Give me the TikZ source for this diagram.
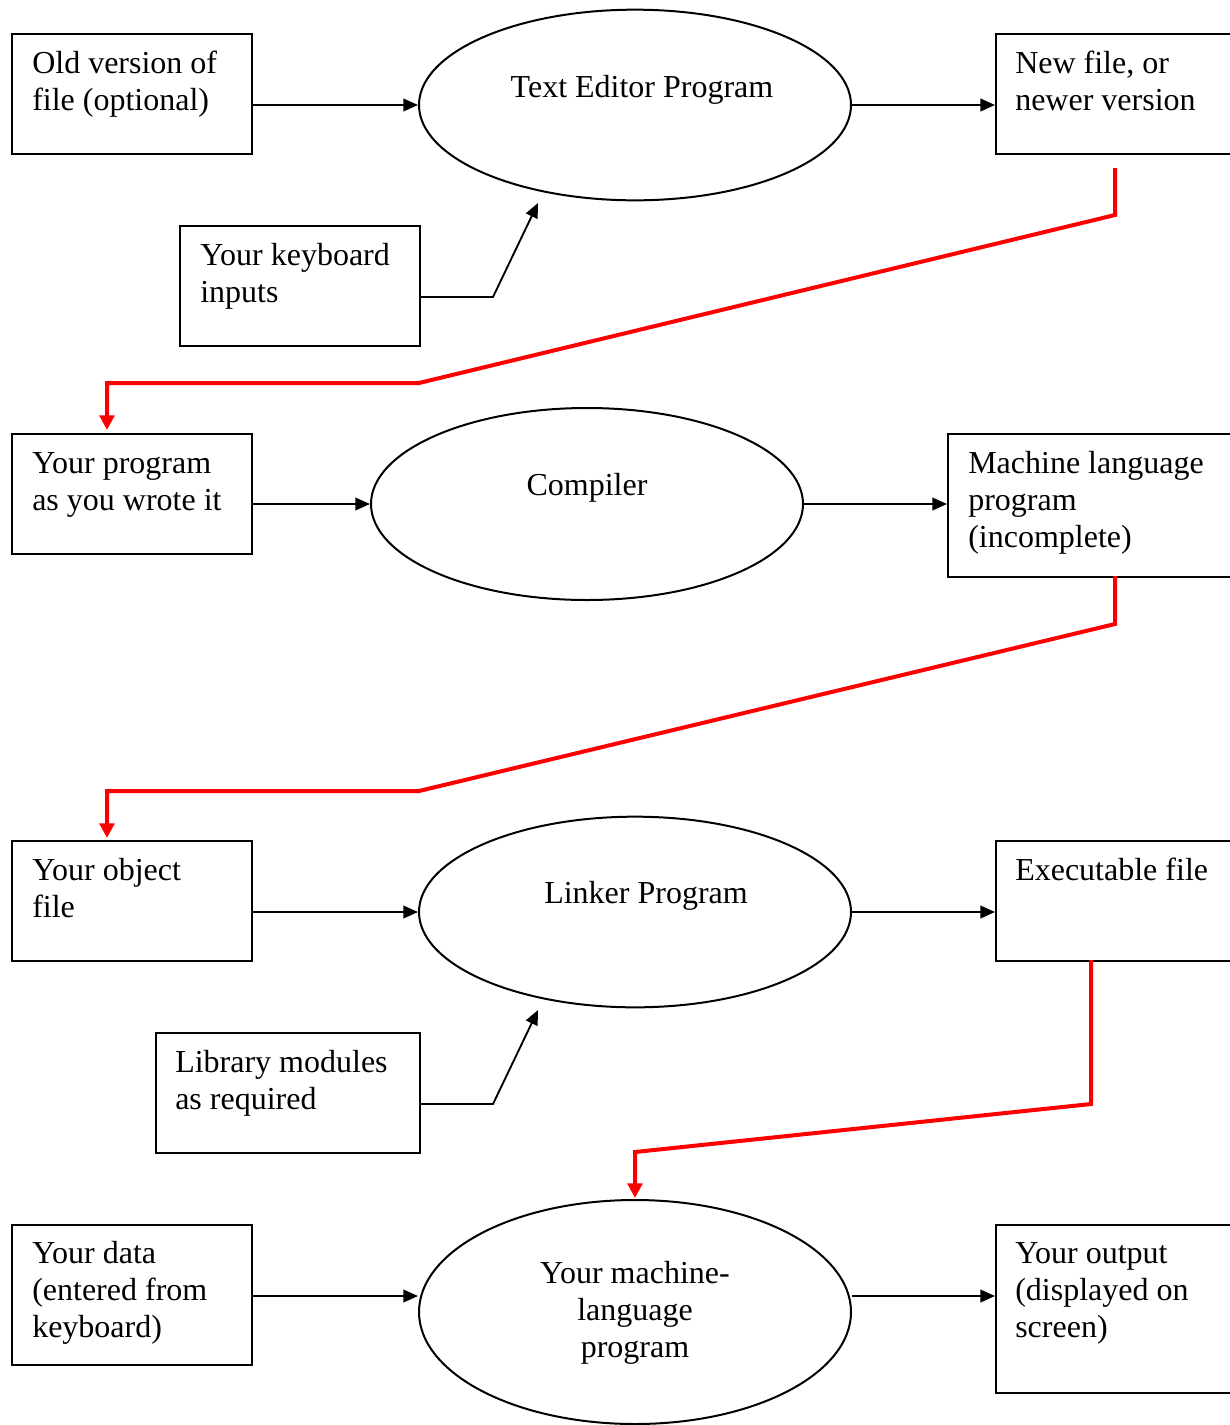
\documentclass[tikz,border=0pt]{standalone}
\usepackage{fontspec}
\setmainfont{Liberation Serif}
\usetikzlibrary{shapes.geometric,arrows.meta,calc}
\begin{document}
\begin{tikzpicture}[x=0.75pt,y=-0.75pt,
  box/.style={draw,line width=1.5pt,inner sep=0,anchor=north west,minimum width=180pt,minimum height=90pt},
  ell/.style={draw,ellipse,line width=1.5pt,inner sep=0,minimum width=324pt,minimum height=143pt},
  txt/.style={inner sep=0,align=left,anchor=north west,font=\fontsize{24pt}{27.75pt}\selectfont},
  ctxt/.style={inner sep=0,align=center,font=\fontsize{24pt}{27.75pt}\selectfont},
  arr/.style={line width=1.4pt,-{Triangle[length=11pt,width=9.5pt]}},
  redarr/.style={draw=red,line width=3pt,-{Triangle[length=11pt,width=11pt]}}]
\useasboundingbox (0,0) rectangle (1230,1425);
\clip (0,0) rectangle (1230,1425);
% row 1
\node[box] (b1) at (11,33) {};
\node[ell] (e1) at (635,105) {};
\node[box] (b3) at (995,33) {};
\node[box] (kb) at (179,225) {};
\node[txt] (t1) at (32,47) {\strut Old version of\\file (optional)};
\node[ctxt,anchor=base] (t2) at (642,97) {Text Editor Program};
\node[txt] (t3) at (1015,47) {\strut New file, or\\newer version};
\node[txt] (t4) at (200,239) {\strut Your keyboard\\inputs};
\draw[arr] (b1.east |- e1) -- (e1.west);
\draw[arr] (e1.east) -- (b3.west |- e1);
\coordinate (k1) at (538,203);
\draw[arr] ($(kb.north east)+(0,72)$) -- ++(72,0) -- (k1);
% red 1
\coordinate (r1s) at (1115,168);
\coordinate (r1e) at (107,430);
\draw[redarr] (r1s) -- (1115,215) -- (419,383) -- (107,383) -- (r1e);
% row 2
\node[box] (b4) at (11,433) {};
\node[ell,minimum height=144pt] (e2) at (587,504) {};
\node[box,minimum width=240pt,minimum height=107pt] (b6) at (947,433) {};
\node[txt] (t5) at (32,447) {\strut Your program\\as you wrote it};
\node[ctxt,anchor=base] (t6) at (587,495) {Compiler};
\node[txt] (t7) at (968,447) {\strut Machine language\\program\\(incomplete)};
\draw[arr] (b4.east |- e2) -- (e2.west);
\draw[arr] (e2.east) -- (b6.west |- e2);
% red 2
\coordinate (r2s) at (1115,576);
\coordinate (r2e) at (107,838);
\draw[redarr] (r2s) -- (1115,624) -- (419,791) -- (107,791) -- (r2e);
% row 3
\node[box] (b7) at (11,840) {};
\node[ell] (e3) at (635,912) {};
\node[box] (b9) at (995,840) {};
\node[box,minimum width=198pt] (lib) at (155,1032) {};
\node[txt] (t8) at (32,854) {\strut Your object\\file};
\node[ctxt,anchor=base] (t9) at (646,903) {Linker Program};
\node[txt] (t10) at (1015,854) {\strut Executable file};
\node[txt] (t11) at (175,1046) {\strut Library modules\\as required};
\draw[arr] (b7.east |- e3) -- (e3.west);
\draw[arr] (e3.east) -- (b9.west |- e3);
\coordinate (k2) at (538,1010);
\draw[arr] ($(lib.north east)+(0,72)$) -- ++(72,0) -- (k2);
% red 3
\coordinate (r3s) at (1091,960);
\coordinate (r3e) at (635,1198);
\draw[redarr] (r3s) -- (1091,1104) -- (635,1152) -- (r3e);
% row 4
\node[box,minimum height=105pt] (b10) at (11,1224) {};
\node[ell,minimum height=168pt] (e4) at (635,1312) {};
\node[box,minimum height=126pt] (b12) at (995,1224) {};
\node[txt] (t13) at (32,1237) {\strut Your data\\(entered from\\keyboard)};
\node[ctxt,anchor=north] (t12) at (635,1257) {\strut Your machine-\\language\\program};
\node[txt] (t14) at (1015,1237) {\strut Your output\\(displayed on\\screen)};
\draw[arr] (b10.east |- 0,1296) -- (e4.west |- 0,1296);
\draw[arr] (e4.east |- 0,1296) -- (b12.west |- 0,1296);
\end{tikzpicture}
\end{document}
